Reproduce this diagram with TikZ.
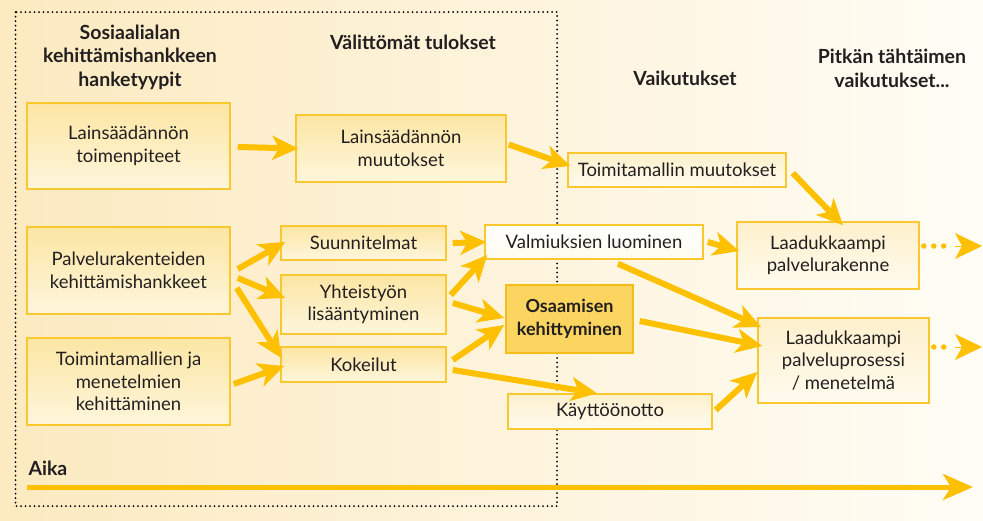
\documentclass[tikz,border=0pt]{standalone}
\usepackage{fontspec}
\setmainfont{Lato}
\usetikzlibrary{arrows.meta,calc}
\definecolor{arr}{RGB}{255,192,0}
\definecolor{bord}{RGB}{249,199,46}
\definecolor{txt}{RGB}{35,31,32}
\definecolor{bgL}{RGB}{252,234,192}
\definecolor{bgR}{RGB}{255,253,246}
\definecolor{boxTop}{RGB}{252,230,164}
\definecolor{boxBot}{RGB}{254,246,220}
\definecolor{boxTopR}{RGB}{253,240,204}
\definecolor{boxBotR}{RGB}{255,251,238}
\definecolor{hiFill}{RGB}{251,213,96}
\definecolor{hiBord}{RGB}{244,190,26}
\tikzset{
  boxL/.style={draw=bord, line width=1.5pt, top color=boxTop, bottom color=boxBot,
    align=center, text=txt, font=\fontsize{18.5}{22.5}\selectfont, inner sep=0pt},
  boxR/.style={boxL, top color=boxTopR, bottom color=boxBotR},
  boxW/.style={boxL, top color=white, bottom color=boxBotR},
  boxH/.style={draw=hiBord, line width=1.5pt, fill=hiFill, align=center, text=txt,
    font=\fontsize{18}{23}\selectfont\bfseries, inner sep=0pt},
  head/.style={align=center, text=txt, font=\fontsize{19.5}{23.5}\selectfont\bfseries},
  conn/.style={draw=arr, line width=6pt, -{Stealth[length=26pt,width=24pt,inset=7pt]}},
  dotline/.style={draw=arr, line width=5.5pt, line cap=round, dash pattern=on 0pt off 10pt},
  dotend/.style={draw=arr, line width=1pt, -{Stealth[length=27pt,width=26pt,inset=7pt]}},
  frame/.style={draw=black, line width=2pt, line cap=round, dash pattern=on 0pt off 4.5pt},
}
\begin{document}
\begin{tikzpicture}[x=1pt,y=-1pt]
\useasboundingbox (0,0) rectangle (983,520);
\shade[left color=bgL, right color=bgR] (0,0) rectangle (983,520);
\draw[frame] (15.5,12) rectangle (557,506);

% headers
\node[head] (h1) at (130,57) {Sosiaalialan\\kehittämishankkeen\\hanketyypit};
\node[head] (h2) at (413,42) {Välittömät tulokset};
\node[head] (h3) at (685,78) {Vaikutukset};
\node[head] (h4) at (892,68.5) {Pitkän tähtäimen\\vaikutukset...};
\node[head, anchor=west] (aika) at (25,468) {Aika};

% boxes
\node[boxL, minimum width=203pt, minimum height=86pt] (b1) at (128.5,146) {Lainsäädännön\\toimenpiteet\vphantom{g}};
\node[boxL, minimum width=203pt, minimum height=87pt] (b2) at (128.5,270.5) {Palvelurakenteiden\\kehittämishankkeet};
\node[boxL, minimum width=203pt, minimum height=87pt] (b3) at (128.5,381.5) {Toimintamallien ja\\menetelmien\\kehittäminen};
\node[boxL, minimum width=210pt, minimum height=67pt] (m1) at (401,148.5) {Lainsäädännön\\muutokset};
\node[boxL, minimum width=165pt, minimum height=34pt] (suun) at (363.5,243) {Suunnitelmat};
\node[boxL, minimum width=165pt, minimum height=59pt] (yht) at (363.5,304.5) {Yhteistyön\\lisääntyminen};
\node[boxL, minimum width=165pt, minimum height=35pt] (kok) at (363.5,364.5) {Kokeilut};
\node[boxW, minimum width=218pt, minimum height=34pt] (valm) at (594,242) {Valmiuksien luominen};
\node[boxH, minimum width=127pt, minimum height=68pt] (osa) at (569.5,319) {Osaamisen\\kehittyminen};
\node[boxR, minimum width=218pt, minimum height=34pt] (toim) at (677,170) {Toimitamallin muutokset};
\node[boxR, minimum width=204pt, minimum height=35pt] (kay) at (610,411.5) {Käyttöönotto};
\node[boxR, minimum width=182pt, minimum height=67pt] (rak) at (828,255.5) {Laadukkaampi\\palvelurakenne};
\node[boxR, minimum width=171pt, minimum height=85pt] (pro) at (843.5,360.5) {Laadukkaampi\\palveluprosessi\\/ menetelmä};

% connectors
\draw[conn] ($(b1.east)+(7,1)$) -- ($(m1.west)+(3,0)$);
\draw[conn] ($(m1.east)+(2,-4)$) -- ($(toim.west)+(3,-4)$);
\draw[conn] ($(toim.east)+(6,3)$) -- ($(rak.north)+(15,4)$);
\draw[conn] ($(b2.east)+(7,-1.5)$) -- ($(suun.west)+(5,-1)$);
\draw[conn] ($(b2.east)+(7,7.5)$) -- ($(yht.west)+(5,-6.5)$);
\draw[conn] ($(b2.east)+(6,17.5)$) -- ($(kok.west)+(1,-6.5)$);
\draw[conn] ($(b3.east)+(3,2.5)$) -- ($(kok.west)+(4,1.5)$);
\draw[conn] ($(suun.east)+(6,0)$) -- ($(valm.west)+(2,0)$);
\draw[conn] ($(yht.east)+(4,-9.5)$) -- ($(valm.west)+(3,13)$);
\draw[conn] ($(yht.east)+(6,-1.5)$) -- ($(osa.west)+(-1,-1)$);
\draw[conn] ($(kok.east)+(6,-4.5)$) -- ($(osa.west)+(-1,6)$);
\draw[conn] ($(kok.east)+(6,5.5)$) -- ($(kay.north)+(-13,0)$);
\draw[conn] ($(valm.east)+(4,0)$) -- ($(rak.west)+(3,-4.5)$);
\draw[conn] ($(valm.south)+(24,4)$) -- ($(pro.west)+(4,-33.5)$);
\draw[conn] ($(osa.east)+(6,2)$) -- ($(pro.west)+(5,-14.5)$);
\draw[conn] ($(kay.east)+(3,-1.5)$) -- ($(pro.west)+(0,11.5)$);

% dotted continuation arrows
\coordinate (d1a) at (953,246);
\coordinate (d1c) at (955,246);
\coordinate (d1b) at (982,246);
\coordinate (d2a) at (953,347);
\coordinate (d2c) at (955,347);
\coordinate (d2b) at (982,347);
\draw[dotline] ($(rak.east)+(4,-9.5)$) -- (d1a);
\draw[dotend] (d1c) -- (d1b);
\draw[dotline] ($(pro.east)+(4,-13.5)$) -- (d2a);
\draw[dotend] (d2c) -- (d2b);

% time axis
\coordinate (t0) at (27,487);
\coordinate (t1) at (973,487);
\draw[draw=arr, line width=5pt, -{Stealth[length=30pt,width=26pt,inset=8pt]}] (t0) -- (t1);
\end{tikzpicture}
\end{document}
